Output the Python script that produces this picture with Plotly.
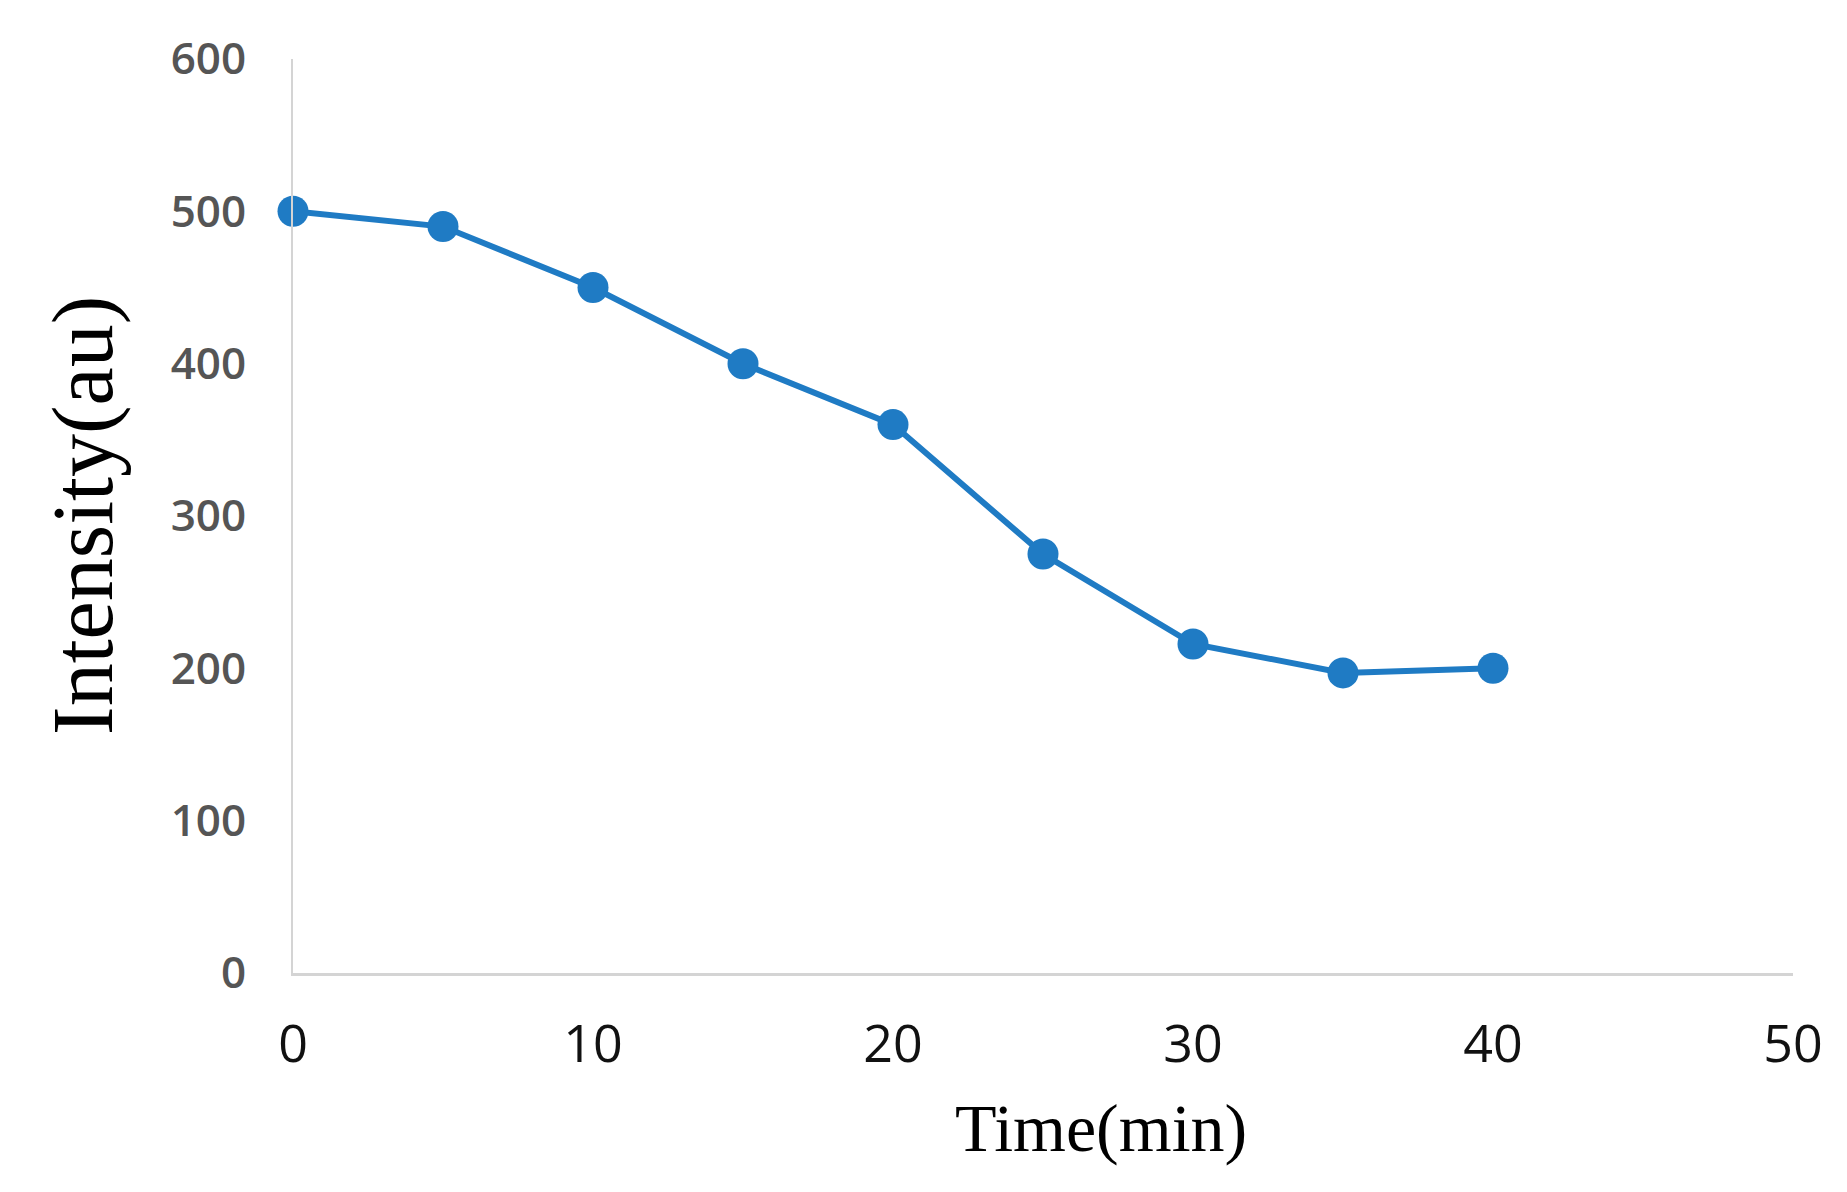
import plotly.graph_objects as go

time_min = [0, 5, 10, 15, 20, 25, 30, 35, 40]
intensity = [500, 490, 450, 400, 360, 275, 216, 197, 200]
x_ticks = [0, 10, 20, 30, 40, 50]
y_ticks = [0, 100, 200, 300, 400, 500, 600]

W, H = 1847, 1192
OFF = 8  # default page body margin
L, R, T, B = 293 - OFF, 54 + OFF, 59 - OFF, 219 + OFF
pw, ph = W - L - R, H - T - B


def px_x(px):
    return (px - OFF - L) / pw


def px_y(py):
    return (T + ph - (py - OFF)) / ph


fig = go.Figure()
fig.add_trace(go.Scatter(
    x=time_min, y=intensity, mode="lines+markers",
    line=dict(color="#1f7bc4", width=6),
    marker=dict(color="#1f7bc4", size=31),
    showlegend=False, cliponaxis=False,
))

fig.update_layout(
    width=W, height=H,
    margin=dict(l=L, r=R, t=T, b=B),
    paper_bgcolor="white", plot_bgcolor="white",
    xaxis=dict(range=[0, 50], tickvals=x_ticks, showgrid=False, zeroline=False,
               showline=True, linecolor="#d4d4d4", linewidth=3, ticks="",
               tickfont=dict(family="Open Sans", size=52, color="#111111"),
               ticklabelstandoff=24),
    yaxis=dict(range=[0, 600], tickvals=y_ticks, showgrid=False, zeroline=False,
               showline=True, linecolor="#d4d4d4", linewidth=2, ticks="",
               tickfont=dict(family="Open Sans", size=44, color="#555555", weight=600),
               ticklabelstandoff=36),
    font=dict(family="Open Sans"),
)

fig.add_annotation(text="Time(min)", xref="paper", yref="paper",
                   x=px_x(1101), y=px_y(1128),
                   xanchor="center", yanchor="middle", showarrow=False,
                   font=dict(family="Liberation Serif", size=68, color="black"))
fig.add_annotation(text="Intensity(au)", xref="paper", yref="paper",
                   x=px_x(83), y=px_y(515), textangle=-90,
                   xanchor="center", yanchor="middle", showarrow=False,
                   font=dict(family="Liberation Serif", size=86, color="black"))

fig.write_html("out.html")
